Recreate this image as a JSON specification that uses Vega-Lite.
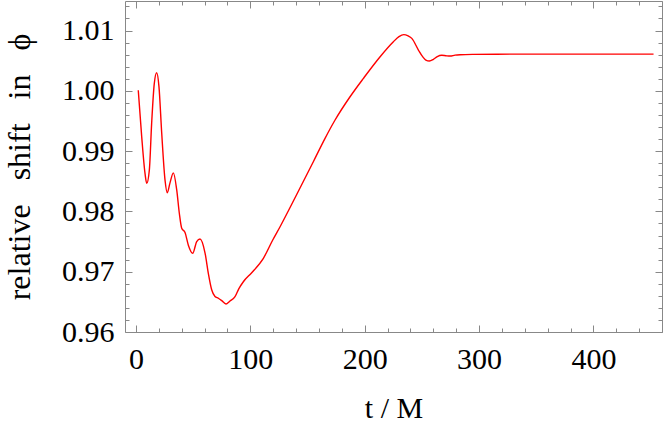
{
  "$schema": "https://vega.github.io/schema/vega-lite/v6.json",
  "autosize": {"type": "none"},
  "width": 537,
  "height": 331,
  "padding": {"left": 125, "top": 1, "right": 2, "bottom": 93},
  "background": "white",
  "config": {
    "view": {"stroke": null},
    "font": "Liberation Serif",
    "text": {"font": "Liberation Serif"},
    "axis": {
      "domainColor": "#888888",
      "tickColor": "#888888",
      "labelColor": "#000000",
      "titleColor": "#000000",
      "labelFont": "Liberation Serif",
      "titleFont": "Liberation Serif",
      "labelFontSize": 30,
      "titleFontSize": 30,
      "titleFontWeight": "normal",
      "grid": false,
      "labelOverlap": false,
      "labelBound": false,
      "labelFlush": false
    }
  },
  "data": {"values": [
    {"t": 2.0, "v": 1.0001},
    {"t": 5.0, "v": 0.9924},
    {"t": 7.9, "v": 0.9863},
    {"t": 9.4, "v": 0.98466},
    {"t": 11.7, "v": 0.9869},
    {"t": 13.7, "v": 0.9946},
    {"t": 16.0, "v": 1.0012},
    {"t": 18.1, "v": 1.0030},
    {"t": 20.1, "v": 1.0007},
    {"t": 22.5, "v": 0.9930},
    {"t": 25.4, "v": 0.9852},
    {"t": 27.4, "v": 0.9831},
    {"t": 29.7, "v": 0.9847},
    {"t": 32.7, "v": 0.9864},
    {"t": 35.6, "v": 0.9836},
    {"t": 37.9, "v": 0.9797},
    {"t": 40.0, "v": 0.9772},
    {"t": 42.9, "v": 0.9765},
    {"t": 45.8, "v": 0.9744},
    {"t": 49.6, "v": 0.97305},
    {"t": 53.1, "v": 0.9750},
    {"t": 56.0, "v": 0.97542},
    {"t": 60.4, "v": 0.9731},
    {"t": 63.3, "v": 0.9697},
    {"t": 66.2, "v": 0.9670},
    {"t": 69.1, "v": 0.9659},
    {"t": 72.0, "v": 0.9656},
    {"t": 75.0, "v": 0.9652},
    {"t": 78.7, "v": 0.96464},
    {"t": 82.0, "v": 0.9651},
    {"t": 86.6, "v": 0.96585},
    {"t": 90.0, "v": 0.9672},
    {"t": 93.9, "v": 0.96834},
    {"t": 101.2, "v": 0.96983},
    {"t": 111.4, "v": 0.97222},
    {"t": 119.6, "v": 0.97526},
    {"t": 126.0, "v": 0.97746},
    {"t": 140.0, "v": 0.9826},
    {"t": 155.1, "v": 0.98824},
    {"t": 165.0, "v": 0.9920},
    {"t": 174.1, "v": 0.99516},
    {"t": 187.2, "v": 0.99902},
    {"t": 198.9, "v": 1.00207},
    {"t": 213.5, "v": 1.00566},
    {"t": 225.1, "v": 1.00814},
    {"t": 230.0, "v": 1.0090},
    {"t": 234.2, "v": 1.00932},
    {"t": 238.0, "v": 1.0091},
    {"t": 241.2, "v": 1.0087},
    {"t": 247.0, "v": 1.00677},
    {"t": 251.0, "v": 1.0056},
    {"t": 253.5, "v": 1.0051},
    {"t": 256.6, "v": 1.00494},
    {"t": 260.1, "v": 1.00522},
    {"t": 263.5, "v": 1.00568},
    {"t": 267.4, "v": 1.00589},
    {"t": 271.0, "v": 1.00582},
    {"t": 274.7, "v": 1.00577},
    {"t": 279.0, "v": 1.00592},
    {"t": 283.5, "v": 1.00599},
    {"t": 295.0, "v": 1.00605},
    {"t": 315.6, "v": 1.00608},
    {"t": 360.0, "v": 1.00609},
    {"t": 410.0, "v": 1.00609},
    {"t": 452.6, "v": 1.00609}
  ]},
  "layer": [
    {
      "mark": {"type": "line", "color": "#ff0000", "strokeWidth": 1.4, "interpolate": "monotone", "clip": true},
      "encoding": {
        "x": {
          "field": "t", "type": "quantitative",
          "scale": {"domain": [-9.6, 460], "nice": false, "zero": false},
          "axis": {
            "orient": "bottom",
            "title": "t / M",
            "titlePadding": 16,
            "labelFont": "Liberation Serif",
            "titleFont": "Liberation Serif",
            "values": [0,20,40,60,80,100,120,140,160,180,200,220,240,260,280,300,320,340,360,380,400,420,440,460],
            "labelExpr": "datum.value % 100 === 0 ? datum.label : ''",
            "tickSize": {"condition": {"test": "datum.value % 100 === 0", "value": -7}, "value": -4},
            "labelPadding": 19
          }
        },
        "y": {
          "field": "v", "type": "quantitative",
          "scale": {"domain": [0.96, 1.0149], "nice": false, "zero": false},
          "axis": {
            "orient": "left",
            "title": "relative\u00a0\u00a0\u00a0shift\u00a0\u00a0\u00a0in\u00a0\u00a0\u00a0ϕ",
            "titleFontSize": 32,
            "titlePadding": 25,
            "labelFont": "Liberation Serif",
            "titleFont": "Liberation Serif",
            "values": [0.96,0.962,0.964,0.966,0.968,0.97,0.972,0.974,0.976,0.978,0.98,0.982,0.984,0.986,0.988,0.99,0.992,0.994,0.996,0.998,1.0,1.002,1.004,1.006,1.008,1.01,1.012,1.014],
            "labelExpr": "abs(datum.value*100 - round(datum.value*100)) < 0.000001 ? format(datum.value, '.2f') : ''",
            "tickSize": {"condition": {"test": "abs(datum.value*100 - round(datum.value*100)) < 0.000001", "value": -7}, "value": -4},
            "labelPadding": 18
          }
        }
      }
    },
    {
      "mark": {"type": "line", "opacity": 0, "interpolate": "monotone"},
      "encoding": {
        "x": {
          "field": "t", "type": "quantitative",
          "axis": {
            "orient": "top",
            "title": null,
            "labels": false,
            "values": [0,20,40,60,80,100,120,140,160,180,200,220,240,260,280,300,320,340,360,380,400,420,440,460],
            "tickSize": {"condition": {"test": "datum.value % 100 === 0", "value": -7}, "value": -4}
          }
        },
        "y": {
          "field": "v", "type": "quantitative",
          "axis": {
            "orient": "right",
            "title": null,
            "labels": false,
            "values": [0.96,0.962,0.964,0.966,0.968,0.97,0.972,0.974,0.976,0.978,0.98,0.982,0.984,0.986,0.988,0.99,0.992,0.994,0.996,0.998,1.0,1.002,1.004,1.006,1.008,1.01,1.012,1.014],
            "tickSize": {"condition": {"test": "abs(datum.value*100 - round(datum.value*100)) < 0.000001", "value": -7}, "value": -4}
          }
        }
      }
    }
  ],
  "resolve": {"axis": {"x": "independent", "y": "independent"}}
}
